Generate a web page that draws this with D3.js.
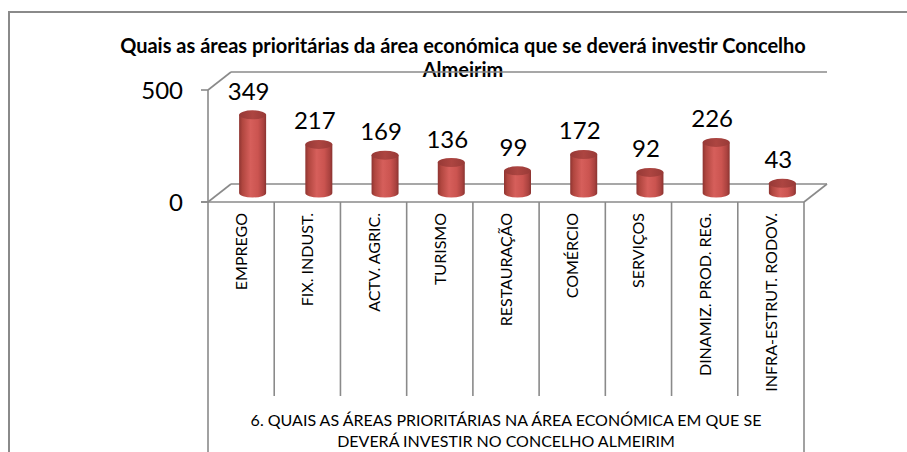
<!DOCTYPE html>
<html>
<head>
<meta charset="utf-8">
<script src="https://cdn.jsdelivr.net/npm/d3@7"></script>
<style>
  html, body { margin: 0; padding: 0; background: #fff; }
  svg { display: block; font-family: Lato, "Open Sans", sans-serif; }
</style>
</head>
<body>
<svg id="chart" width="907" height="452"></svg>
<script>
// Survey answers: priority areas for economic investment in Almeirim
const categories = ["EMPREGO", "FIX. INDUST.", "ACTV. AGRIC.", "TURISMO", "RESTAURAÇÃO",
                    "COMÉRCIO", "SERVIÇOS", "DINAMIZ. PROD. REG.", "INFRA-ESTRUT. RODOV."];
const values = [349, 217, 169, 136, 99, 172, 92, 226, 43];
const yTicks = [0, 500];
const titleLines = ["Quais as áreas prioritárias da área económica que se deverá investir Concelho", "Almeirim"];
const axisTitleLines = ["6. QUAIS AS ÁREAS PRIORITÁRIAS NA ÁREA ECONÓMICA EM QUE SE",
                        "DEVERÁ INVESTIR NO CONCELHO ALMEIRIM"];

const svg = d3.select("#chart");
const grid = "#8a8a8a";

// 3D depth offset of the plot box
const depth = { dx: 23, dy: -18 };

const x = d3.scaleBand().domain(categories).range([208, 804]);
const y = d3.scaleLinear().domain([0, 500]).range([202, 90]);

// outer chart frame (runs off the right and bottom)
svg.append("rect")
  .attr("x", 9).attr("y", 12).attr("width", 1000).attr("height", 1000)
  .attr("fill", "none").attr("stroke", "#8a8a8a").attr("stroke-width", 2);

// title
svg.append("text")
  .attr("x", 463).attr("text-anchor", "middle")
  .attr("font-weight", "bold").attr("font-size", 20).attr("fill", "#000")
  .selectAll("tspan").data(titleLines).join("tspan")
  .attr("x", 463).attr("y", (d, i) => 53 + i * 24)
  .text(d => d);

// back wall and floor outline
const x0 = x.range()[0], x1 = x.range()[1];
const y0 = y(0), yMax = y(500);
const wall = [
  [[x0, yMax], [x0 + depth.dx, yMax + depth.dy]],
  [[x0 + depth.dx, yMax + depth.dy], [x1 + depth.dx, yMax + depth.dy]],
  [[x0, y0], [x0 + depth.dx, y0 + depth.dy]],
  [[x0 + depth.dx, y0 + depth.dy], [x1 + depth.dx, y0 + depth.dy]],
  [[x1, y0], [x1 + depth.dx, y0 + depth.dy]],
  [[x0, yMax], [x0, y0]],
  [[x0 - 7, y0], [x1, y0]]
];
svg.append("g").selectAll("line").data(wall).join("line")
  .attr("x1", d => d[0][0]).attr("y1", d => d[0][1])
  .attr("x2", d => d[1][0]).attr("y2", d => d[1][1])
  .attr("stroke", grid).attr("stroke-width", 1.6);

// value axis ticks and labels
svg.append("g").selectAll("line").data(yTicks).join("line")
  .attr("x1", x0 - 7).attr("x2", x0).attr("y1", d => y(d)).attr("y2", d => y(d))
  .attr("stroke", grid).attr("stroke-width", 1.6);
svg.append("g").selectAll("text").data(yTicks).join("text")
  .attr("x", 183).attr("y", d => y(d) + 8.5)
  .attr("text-anchor", "end").attr("font-size", 24).attr("fill", "#000")
  .text(d => d);

// category table below the floor
const bounds = categories.map(c => x(c)).concat([x1]);
svg.append("g").selectAll("line").data(bounds).join("line")
  .attr("x1", d => d).attr("x2", d => d)
  .attr("y1", y0)
  .attr("y2", (d, i) => (i === 0 || i === bounds.length - 1) ? 460 : 396)
  .attr("stroke", grid).attr("stroke-width", 1.6);

svg.append("g").selectAll("text").data(categories).join("text")
  .attr("transform", d => `translate(${x(d) + x.bandwidth() / 2 + 6},213) rotate(-90)`)
  .attr("text-anchor", "end").attr("font-size", 16).attr("fill", "#000")
  .text(d => d);

svg.append("text").attr("text-anchor", "middle").attr("font-size", 16).attr("fill", "#000")
  .selectAll("tspan").data(axisTitleLines).join("tspan")
  .attr("x", 506).attr("y", (d, i) => 426 + i * 21)
  .text(d => d);

// cylinder shading
const defs = svg.append("defs");
const bodyGrad = defs.append("linearGradient").attr("id", "cylBody")
  .attr("x1", "0%").attr("x2", "100%").attr("y1", "0%").attr("y2", "0%");
[[0, "#8e3431"], [0.12, "#b0463f"], [0.42, "#d65f5b"], [0.7, "#cb5450"], [0.9, "#aa423f"], [1, "#8a3330"]]
  .forEach(([o, c]) => bodyGrad.append("stop").attr("offset", o).attr("stop-color", c));
const capGrad = defs.append("linearGradient").attr("id", "cylTop")
  .attr("x1", "0%").attr("x2", "100%").attr("y1", "0%").attr("y2", "0%");
[[0, "#963936"], [0.5, "#ad4541"], [1, "#983a37"]]
  .forEach(([o, c]) => capGrad.append("stop").attr("offset", o).attr("stop-color", c));

// bars sit half way into the depth
const rx = 13.5, ry = 4.5;
const cx = c => x(c) + x.bandwidth() / 2 + depth.dx / 2;
const yMid = v => y(v) + depth.dy / 2;

const bars = svg.append("g").selectAll("g").data(categories.map((c, i) => ({ c, v: values[i] })))
  .join("g");

bars.append("path")
  .attr("d", d => {
    const c = cx(d.c), yt = yMid(d.v), yb = yMid(0);
    return `M${c - rx},${yt} L${c - rx},${yb} A${rx},${ry} 0 0 0 ${c + rx},${yb} L${c + rx},${yt} Z`;
  })
  .attr("fill", "url(#cylBody)");

bars.append("ellipse")
  .attr("cx", d => cx(d.c)).attr("cy", d => yMid(d.v))
  .attr("rx", rx).attr("ry", ry)
  .attr("fill", "url(#cylTop)");

// data labels
bars.append("text")
  .attr("x", d => cx(d.c) - 4).attr("y", d => yMid(d.v) - 15)
  .attr("text-anchor", "middle").attr("font-size", 24).attr("fill", "#000")
  .text(d => d.v);
</script>
</body>
</html>
